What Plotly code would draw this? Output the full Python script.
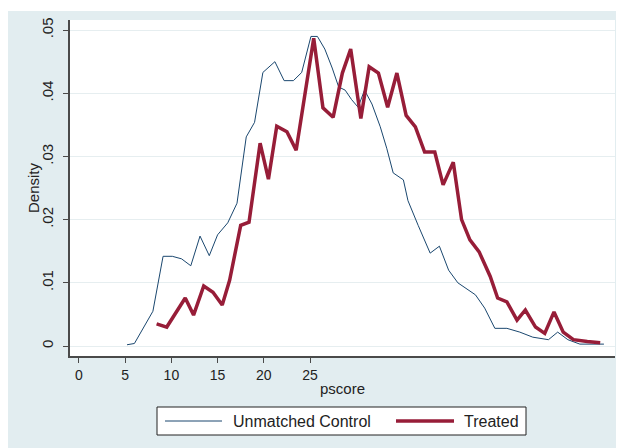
import plotly.graph_objects as go

# Data
control_x = [5.2, 6.0, 8.0, 9.1, 10.1, 11.1, 12.1, 13.1, 14.1, 15.0, 16.1, 17.1, 18.1, 19.0, 19.9,
             21.2, 22.2, 23.2, 24.1, 25.1, 25.8, 26.6, 27.4, 28.1, 28.8, 29.5, 30.2, 30.9, 31.7,
             32.6, 33.3, 34.0, 35.1, 35.6, 36.7, 38.0, 39.0, 40.0, 41.0, 42.9, 43.9, 45.0, 46.3,
             47.7, 49.1, 50.8, 51.8, 52.9, 54.2, 55.6, 56.8]
control_y = [0.0002, 0.0004, 0.0055, 0.0142, 0.0142, 0.0138, 0.0127, 0.0174, 0.0143, 0.0176, 0.0195,
             0.0226, 0.0331, 0.0354, 0.0433, 0.0450, 0.0420, 0.0420, 0.0433, 0.0490, 0.0490, 0.0470,
             0.0440, 0.0410, 0.0405, 0.0390, 0.0378, 0.0405, 0.0383, 0.0347, 0.0313, 0.0274, 0.0263,
             0.0230, 0.0191, 0.0147, 0.0158, 0.0120, 0.0100, 0.0081, 0.0060, 0.0028, 0.0028, 0.0022,
             0.0014, 0.0010, 0.0022, 0.0010, 0.0003, 0.0003, 0.0003]

treated_x = [8.4, 9.5, 11.5, 12.4, 13.5, 14.5, 15.5, 16.3, 17.5, 18.4, 19.6, 20.5, 21.4, 22.5, 23.5,
             25.4, 26.4, 27.5, 28.5, 29.4, 30.5, 31.4, 32.4, 33.4, 34.4, 35.4, 36.4, 37.4, 38.5,
             39.4, 40.5, 41.4, 42.3, 43.3, 44.5, 45.3, 46.3, 47.4, 48.3, 49.4, 50.4, 51.4, 52.4,
             53.5, 55.0, 56.4]
treated_y = [0.0035, 0.0030, 0.0076, 0.0049, 0.0095, 0.0085, 0.0065, 0.0104, 0.0191, 0.0196, 0.0321,
             0.0264, 0.0348, 0.0339, 0.0310, 0.0487, 0.0377, 0.0362, 0.0432, 0.0470, 0.0360, 0.0442,
             0.0432, 0.0378, 0.0432, 0.0365, 0.0347, 0.0307, 0.0307, 0.0255, 0.0291, 0.0200, 0.0168,
             0.0149, 0.0110, 0.0076, 0.0070, 0.0041, 0.0057, 0.0030, 0.0020, 0.0054, 0.0022, 0.0010,
             0.0007, 0.0005]

series_names = ["Unmatched Control", "Treated"]
x_ticks = [0, 5, 10, 15, 20, 25]
y_ticks = [0, 0.01, 0.02, 0.03, 0.04, 0.05]
y_tick_labels = ["0", ".01", ".02", ".03", ".04", ".05"]

FONT = "Liberation Sans, Arial, sans-serif"
NAVY = "#1a476f"
MAROON = "#971d38"
TXT = "#222222"
AXIS = "#4a4a4a"
BG = "#e2edf0"

# page offset (default body margin) and plot area in page pixels
OFF = 8
W, H = 624 - OFF, 448 - OFF
L, R, T, B = 70 - OFF, 615 - OFF, 20 - OFF, 356 - OFF


def px(xp):
    return (xp - OFF - L) / (R - L)


def py(yp):
    return (B - (yp - OFF)) / (B - T)


fig = go.Figure()
fig.add_trace(go.Scatter(x=control_x, y=control_y, mode="lines", name=series_names[0],
                         line=dict(color=NAVY, width=1)))
fig.add_trace(go.Scatter(x=treated_x, y=treated_y, mode="lines", name=series_names[1],
                         line=dict(color=MAROON, width=3.5)))

shapes = [
    # thin white strip above the light-blue graph region
    dict(type="rect", xref="paper", yref="paper", layer="above",
         x0=px(0), x1=px(640), y0=py(11), y1=py(0), fillcolor="white", line=dict(width=0)),
    # legend box
    dict(type="rect", xref="paper", yref="paper", layer="above",
         x0=px(157), x1=px(526), y0=py(435), y1=py(407), fillcolor="white",
         line=dict(color=TXT, width=1)),
    dict(type="line", xref="paper", yref="paper", layer="above",
         x0=px(165), x1=px(222), y0=py(421), y1=py(421), line=dict(color=NAVY, width=1)),
    dict(type="line", xref="paper", yref="paper", layer="above",
         x0=px(396), x1=px(454), y0=py(421), y1=py(421), line=dict(color=MAROON, width=3.5)),
]

annotations = [
    dict(text=series_names[0], xref="paper", yref="paper", x=px(231), y=py(421),
         xanchor="left", yanchor="middle", showarrow=False, font=dict(size=16, color=TXT)),
    dict(text=series_names[1], xref="paper", yref="paper", x=px(462), y=py(421),
         xanchor="left", yanchor="middle", showarrow=False, font=dict(size=16, color=TXT)),
    dict(text="Density", xref="paper", yref="paper", x=px(33), y=0.5, textangle=-90,
         xanchor="center", yanchor="middle", showarrow=False, font=dict(size=15, color=TXT)),
    dict(text="pscore", xref="paper", yref="paper", x=px(342), y=py(388),
         xanchor="center", yanchor="middle", showarrow=False, font=dict(size=15, color=TXT)),
]

fig.update_layout(
    width=W, height=H,
    margin=dict(l=L, r=W - R, t=T, b=H - B, autoexpand=False),
    paper_bgcolor=BG,
    plot_bgcolor="white",
    font=dict(family=FONT, size=14, color=TXT),
    showlegend=False,
    shapes=shapes,
    annotations=annotations,
    xaxis=dict(range=[-0.97, 58.0], tickvals=x_ticks, ticks="outside", ticklen=5,
               tickcolor=AXIS, showgrid=False, zeroline=False, showline=True,
               linecolor=AXIS, linewidth=1.5, tickfont=dict(size=14, color=TXT),
               automargin=False, ticklabelstandoff=0),
    yaxis=dict(range=[-0.00158, 0.0516], tickvals=y_ticks, ticktext=y_tick_labels,
               tickangle=-90, ticks="outside", ticklen=5, tickcolor=AXIS,
               showgrid=True, gridcolor="#e6eef0", gridwidth=1, zeroline=False,
               showline=True, linecolor=AXIS, linewidth=1.5,
               tickfont=dict(size=15, color=TXT), automargin=False, ticklabelstandoff=4),
)

fig.write_html("out.html")
